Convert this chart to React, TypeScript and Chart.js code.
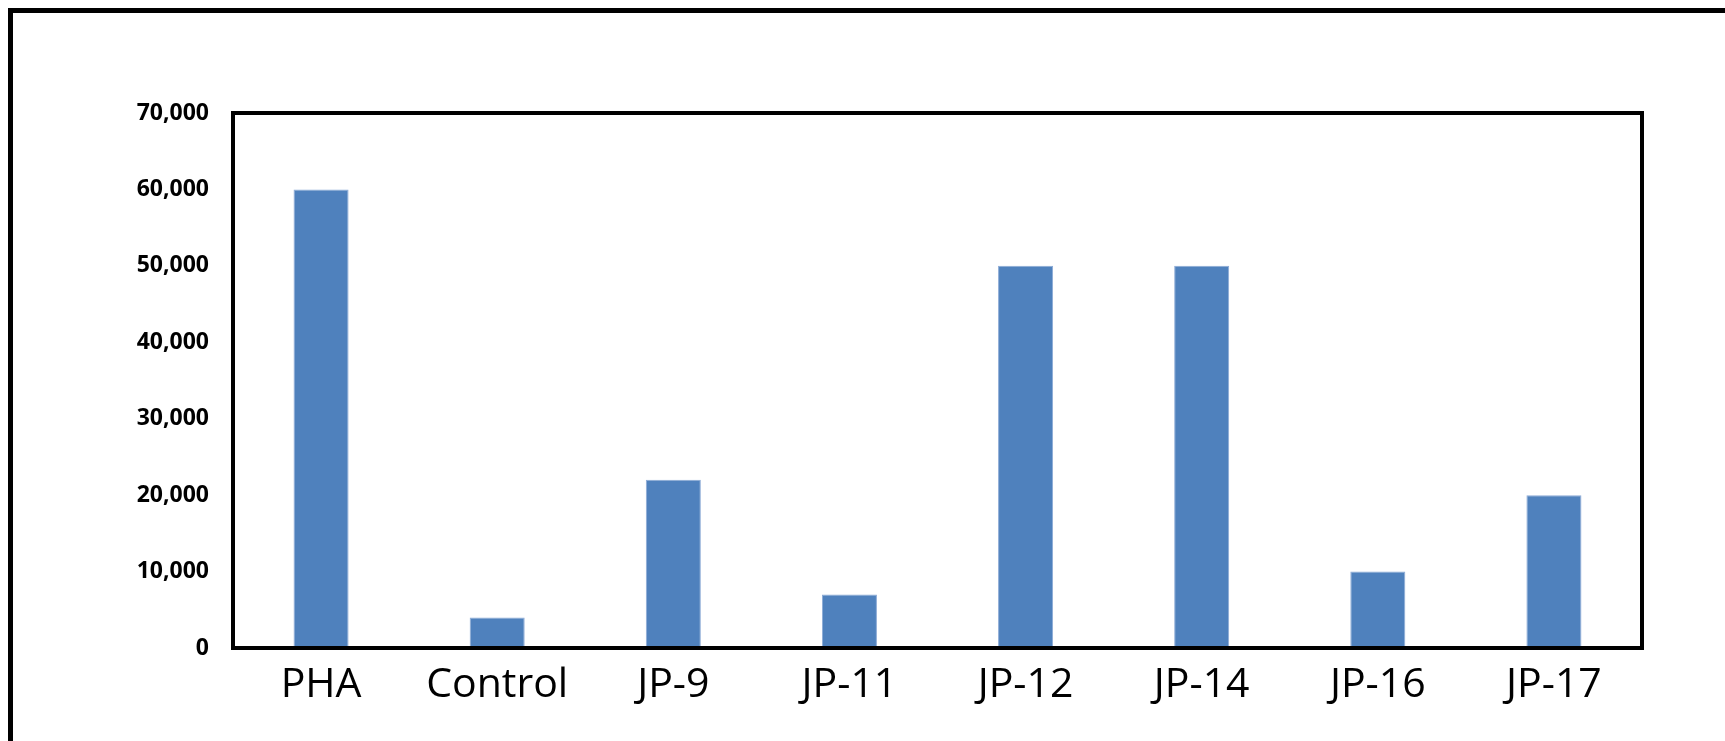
import React, { useEffect, useRef } from "react";
import { Chart, registerables } from "chart.js";

Chart.register(...registerables);

const categories = ["PHA", "Control", "JP-9", "JP-11", "JP-12", "JP-14", "JP-16", "JP-17"];
const values = [60000, 4000, 22000, 7000, 50000, 50000, 10000, 20000];
const yMin = 0;
const yMax = 70000;
const yStep = 10000;

const plotFrame = {
  id: "plotFrame",
  afterDatasetsDraw(chart: any) {
    const { ctx, chartArea } = chart;
    ctx.save();
    ctx.strokeStyle = "#000";
    ctx.lineWidth = 4;
    ctx.lineJoin = "miter";
    ctx.strokeRect(chartArea.left, chartArea.top, chartArea.right - chartArea.left, chartArea.bottom - chartArea.top);
    ctx.restore();
  },
};

export default function App() {
  const ref = useRef<HTMLCanvasElement | null>(null);

  useEffect(() => {
    if (!ref.current) return;
    const chart = new Chart(ref.current, {
      type: "bar",
      data: {
        labels: categories,
        datasets: [
          {
            data: values,
            backgroundColor: "#4F81BD",
            borderColor: "#8CAAD6",
            borderWidth: 1,
            barPercentage: 0.3125,
            categoryPercentage: 1,
          },
        ],
      },
      options: {
        animation: false,
        responsive: false,
        maintainAspectRatio: false,
        devicePixelRatio: 1,
        layout: { padding: { left: 0, right: 83, top: 113, bottom: 0 } },
        plugins: { legend: { display: false }, tooltip: { enabled: false }, title: { display: false } },
        scales: {
          x: {
            grid: { display: false, drawTicks: false },
            border: { display: false },
            ticks: {
              color: "#000",
              padding: 13,
              maxRotation: 0,
              autoSkip: false,
              font: { family: "'Open Sans'", size: 41, weight: "normal" },
            },
            afterFit(scale: any) {
              scale.height = 93;
            },
          },
          y: {
            min: yMin,
            max: yMax,
            grid: { display: false, drawTicks: false },
            border: { display: false },
            ticks: {
              stepSize: yStep,
              color: "#000",
              padding: 24,
              font: { family: "'Open Sans'", size: 23, weight: "bold" },
              callback: (v: any) => Number(v).toLocaleString("en-US"),
            },
            afterFit(scale: any) {
              scale.width = 233;
            },
          },
        },
      },
      plugins: [plotFrame],
    });
    return () => chart.destroy();
  }, []);

  return (
    <div style={{ position: "fixed", left: 0, top: 0, width: 1725, height: 741, overflow: "hidden", background: "#fff" }}>
      <div
        style={{
          position: "absolute",
          left: 8,
          top: 8,
          width: 1900,
          height: 900,
          border: "5px solid #000",
          boxSizing: "border-box",
        }}
      />
      <canvas ref={ref} width={1725} height={741} style={{ position: "absolute", left: 0, top: 0, width: 1725, height: 741 }} />
    </div>
  );
}
